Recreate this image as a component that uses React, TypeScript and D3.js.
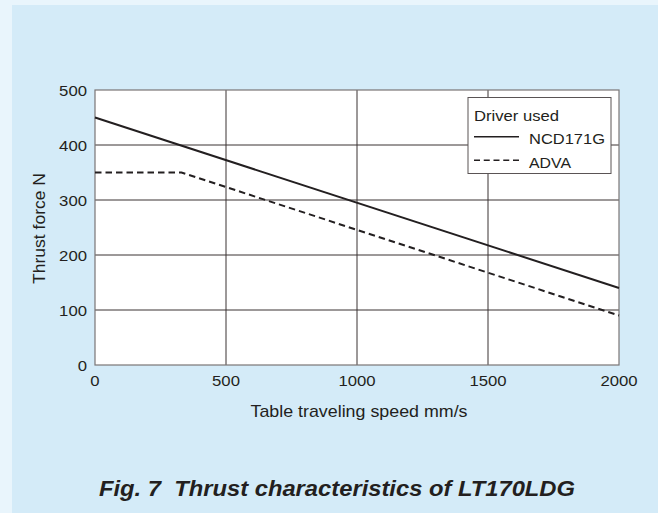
import React, { useEffect, useRef } from "react";
import * as d3 from "d3";

const speedTicks = [0, 500, 1000, 1500, 2000];
const forceTicks = [0, 100, 200, 300, 400, 500];

const ncdSpeed = [0, 2000];
const ncdForce = [450, 140];
const advaSpeed = [0, 330, 2000];
const advaForce = [350, 350, 90];

const seriesNames = ["NCD171G", "ADVA"];

export default function App() {
  const svgRef = useRef<SVGSVGElement>(null);
  const width = 658;
  const height = 513;

  useEffect(() => {
    if (!svgRef.current) return;
    const svg = d3.select(svgRef.current);
    svg.selectAll("*").remove();

    const font = "'Liberation Sans', Arial, sans-serif";
    const ink = "#231f20";
    const digitW = 9.3; // measured width of one tick digit

    svg.append("rect").attr("width", width).attr("height", height).attr("fill", "#e9f5fc");
    svg.append("rect").attr("x", 12).attr("y", 5).attr("width", width - 12).attr("height", height - 5).attr("fill", "#d4ebf8");

    const margin = { top: 90, right: 39, bottom: 148, left: 95 };
    const innerWidth = width - margin.left - margin.right;
    const innerHeight = height - margin.top - margin.bottom;

    const x = d3.scaleLinear().domain([0, 2000]).range([0, innerWidth]);
    const y = d3.scaleLinear().domain([0, 500]).range([innerHeight, 0]);

    const g = svg.append("g").attr("transform", `translate(${margin.left},${margin.top})`);

    g.append("rect").attr("width", innerWidth).attr("height", innerHeight).attr("fill", "#fff");

    // grid
    g.selectAll(".vg")
      .data(speedTicks.slice(1, -1))
      .enter()
      .append("line")
      .attr("x1", (d) => x(d))
      .attr("x2", (d) => x(d))
      .attr("y1", 0)
      .attr("y2", innerHeight)
      .attr("stroke", "#3a3233")
      .attr("stroke-width", 1);
    g.selectAll(".hg")
      .data(forceTicks.slice(1, -1))
      .enter()
      .append("line")
      .attr("x1", 0)
      .attr("x2", innerWidth)
      .attr("y1", (d) => y(d))
      .attr("y2", (d) => y(d))
      .attr("stroke", "#3a3233")
      .attr("stroke-width", 1);

    g.append("rect")
      .attr("width", innerWidth)
      .attr("height", innerHeight)
      .attr("fill", "none")
      .attr("stroke", "#7a7576")
      .attr("stroke-width", 1.2);

    // tick labels
    g.selectAll(".xt")
      .data(speedTicks)
      .enter()
      .append("text")
      .attr("x", (d) => x(d))
      .attr("y", innerHeight + 21)
      .attr("text-anchor", "middle")
      .attr("font-family", font)
      .attr("font-size", 15)
      .attr("textLength", (d) => String(d).length * digitW)
      .attr("lengthAdjust", "spacingAndGlyphs")
      .attr("fill", ink)
      .text((d) => d);
    g.selectAll(".yt")
      .data(forceTicks)
      .enter()
      .append("text")
      .attr("x", -8)
      .attr("y", (d) => y(d) + (d === 0 ? 6 : 5.5))
      .attr("text-anchor", "end")
      .attr("font-family", font)
      .attr("font-size", 15)
      .attr("textLength", (d) => String(d).length * digitW)
      .attr("lengthAdjust", "spacingAndGlyphs")
      .attr("fill", ink)
      .text((d) => d);

    g.append("text")
      .attr("x", innerWidth / 2 + 2)
      .attr("y", innerHeight + 52)
      .attr("text-anchor", "middle")
      .attr("font-family", font)
      .attr("font-size", 17)
      .attr("textLength", 217)
      .attr("lengthAdjust", "spacingAndGlyphs")
      .attr("fill", ink)
      .text("Table traveling speed mm/s");
    g.append("text")
      .attr("transform", `translate(-50,${innerHeight / 2 + 1}) rotate(-90)`)
      .attr("text-anchor", "middle")
      .attr("font-family", font)
      .attr("font-size", 16.5)
      .attr("textLength", 111)
      .attr("lengthAdjust", "spacingAndGlyphs")
      .attr("fill", ink)
      .text("Thrust force N");

    const line = d3
      .line<[number, number]>()
      .x((d) => x(d[0]))
      .y((d) => y(d[1]));

    g.append("path")
      .datum(ncdSpeed.map((s, i) => [s, ncdForce[i]] as [number, number]))
      .attr("fill", "none")
      .attr("stroke", ink)
      .attr("stroke-width", 2)
      .attr("d", line);
    g.append("path")
      .datum(advaSpeed.map((s, i) => [s, advaForce[i]] as [number, number]))
      .attr("fill", "none")
      .attr("stroke", ink)
      .attr("stroke-width", 2)
      .attr("stroke-dasharray", "6.5,4")
      .attr("d", line);

    // legend
    const lg = svg.append("g").attr("transform", "translate(468,97.5)");
    lg.append("rect")
      .attr("width", 143)
      .attr("height", 76)
      .attr("fill", "#fff")
      .attr("stroke", "#5a5455")
      .attr("stroke-width", 1);
    lg.append("text")
      .attr("x", 6)
      .attr("y", 23.5)
      .attr("font-family", font)
      .attr("font-size", 15.5)
      .attr("textLength", 85)
      .attr("lengthAdjust", "spacingAndGlyphs")
      .attr("fill", ink)
      .text("Driver used");
    const legendTextW = [76, 42];
    seriesNames.forEach((name, i) => {
      const yy = 39.2 + i * 23.5;
      lg.append("line")
        .attr("x1", 6)
        .attr("x2", 51)
        .attr("y1", yy)
        .attr("y2", yy)
        .attr("stroke", ink)
        .attr("stroke-width", 1.6)
        .attr("stroke-dasharray", i === 1 ? "6,3.75" : null);
      lg.append("text")
        .attr("x", 61)
        .attr("y", yy + 7.5)
        .attr("font-family", font)
        .attr("font-size", 15.5)
        .attr("textLength", legendTextW[i])
        .attr("lengthAdjust", "spacingAndGlyphs")
        .attr("fill", ink)
        .text(name);
    });

    svg.append("text")
      .attr("x", 99)
      .attr("y", 495.7)
      .attr("font-family", font)
      .attr("font-size", 22.5)
      .attr("font-weight", "bold")
      .attr("font-style", "italic")
      .attr("textLength", 476)
      .attr("lengthAdjust", "spacingAndGlyphs")
      .attr("fill", ink)
      .attr("xml:space", "preserve")
      .style("white-space", "pre")
      .text("Fig. 7  Thrust characteristics of LT170LDG");
  }, []);

  return (
    <svg
      ref={svgRef}
      width={width}
      height={height}
      style={{ position: "absolute", left: 0, top: 0, display: "block" }}
    />
  );
}
